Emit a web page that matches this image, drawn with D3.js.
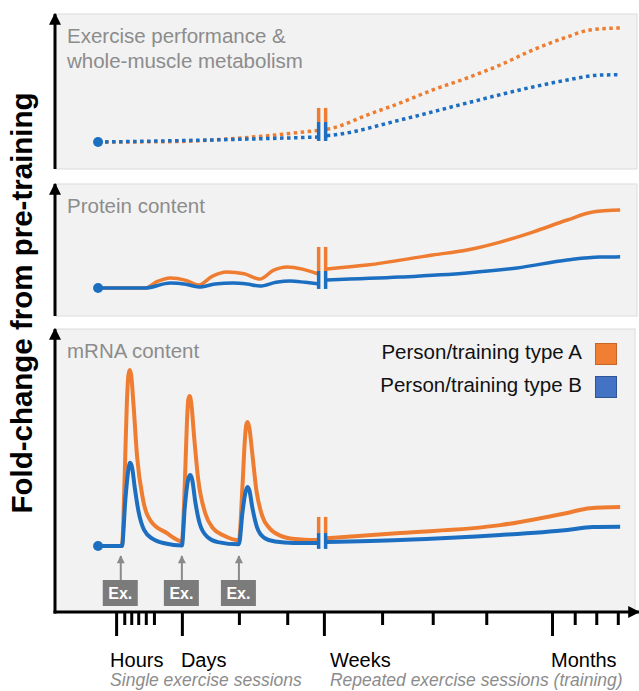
<!DOCTYPE html>
<html>
<head>
<meta charset="utf-8">
<script src="https://cdn.jsdelivr.net/npm/d3@7"></script>
<style>
  body { margin: 0; background: #fff; }
  svg { display: block; font-family: "Liberation Sans", Arial, Helvetica, sans-serif; }
</style>
</head>
<body>
<div id="chart"></div>
<script>
// ---- data (x in timeline units 0-100, y in relative units 0-100 per panel) ----
const tickMajor = [10.5, 21.8, 46.2, 85.4];
const tickMinor = [11.9, 13.1, 14.3, 15.6, 17.0, 31.6, 39.9, 56.2, 64.9, 74.1, 89.3, 93.0, 96.7];
const tickLabels = ["Hours", "Days", "Weeks", "Months"];
const periodLabels = ["Single exercise sessions", "Repeated exercise sessions (training)"];
const exerciseT = [11.3, 21.8, 31.6];
const breakT = [45.3, 46.5];
const seriesNames = ["Person/training type A", "Person/training type B"];

// Exercise performance & whole-muscle metabolism
const perfA = [[7.4,17.4],[15,17.5],[22.7,17.9],[30,19.5],[37,21.6],[42.1,23.6],[45.1,24.8],
  [46.7,25.6],[47.8,26.5],[53.6,34.8],[59.3,42.6],[64.9,51],[70.8,58.7],[76.5,67.1],[82.1,76.8],[88,85.2],[91.9,89.7],[97.1,91]];
const perfB = [[7.4,17.4],[20,18.2],[30,19],[38,19.8],[45.1,20.6],
  [46.7,21.5],[47.8,21.9],[59.3,31.6],[70.8,42.6],[82.1,52.9],[88,57.4],[93.6,60.6],[97.1,60.8]];
const perfBreak = [39.4, 30.3, 18.1];

// Protein content
const protA = [[7.4,21.2],[15.5,21.2],[17.5,26],[19.8,28.8],[22.5,27],[24.7,23.5],[27,30],[29.5,33.3],[32.5,32],[35.2,28],[37.5,34.5],[39.9,37.1],[42.5,35.5],[45.1,32],
  [46.7,35.6],[53.6,38.6],[64.9,46.2],[70.8,50],[76.5,56],[82.1,63.6],[88,72.7],[92.4,78.8],[97.1,80.3]];
const protB = [[7.4,21.2],[15.5,21.2],[19.8,25],[22.5,24],[24.7,22],[27.5,24.2],[30.6,25],[33,24.2],[35.2,22.7],[38,25.5],[40.4,26.5],[43,25.5],[45.1,24.5],
  [46.7,27.3],[59.3,29.5],[70.8,32.6],[79.4,36.4],[88,42.4],[93.6,44.7],[97.1,44.8]];
const protBreak = [52.3, 34.1, 20.5];

// mRNA content
const mrnaA = [[7.4,23.3],[11.5,23.3],[12.0,50],[12.35,74],[12.6,83.5],[12.85,85.5],[13.1,83.5],[13.5,73],[14.1,55],[15.1,40],[16.5,32],[19.2,27.9],[21.8,25],
  [22.3,45],[22.65,66],[22.9,75],[23.15,76.3],[23.4,74],[23.9,62],[24.6,47],[25.8,35],[27.2,29.5],[29,27],[31.6,25.3],
  [32.2,44],[32.6,60],[32.85,66],[33.1,67.1],[33.4,65],[33.9,56],[34.6,43],[35.6,34],[36.9,29.5],[38.7,27],[41.2,25.8],[45.1,25.4],
  [46.7,26.1],[59.3,27.9],[76.5,30.7],[88,35],[91.9,36.7],[97.1,37.1]];
const mrnaB = [[7.4,23.3],[11.5,23.3],[12.1,40],[12.55,49.5],[12.9,52.7],[13.25,51],[13.7,44],[14.4,35],[15.3,29],[16.8,25.8],[19,24.2],[21.8,23.5],
  [22.3,37],[22.8,46],[23.2,48.4],[23.55,47],[24.1,39],[24.9,31],[26.2,26.5],[28,24.7],[31.6,23.9],
  [32.2,35],[32.7,42],[33.05,44.2],[33.4,43],[33.9,37],[34.7,30],[35.9,26.3],[37.8,24.9],[41,24.4],[45.1,24.4],
  [46.7,24.7],[59.3,25.4],[76.5,27.2],[88,29],[92.4,30],[97.1,30.1]];
const mrnaBreak = [33.6, 27.9, 22.3];

// ---- layout ----
const width = 639, height = 691;
const left = 55, right = 637, axisY = 612;
const orange = "#ee7d31", blue = "#1c6ec1";
const labelShift = [-6, -1, 6, -1];

const panels = [
  { title: ["Exercise performance &", "whole-muscle metabolism"], top: 14, bottom: 169, a: perfA, b: perfB, brk: perfBreak, dotted: true, sw: 3.5 },
  { title: ["Protein content"], top: 184, bottom: 316, a: protA, b: protB, brk: protBreak, dotted: false, sw: 3.5 },
  { title: ["mRNA content"], top: 329, bottom: axisY, a: mrnaA, b: mrnaB, brk: mrnaBreak, dotted: false, sw: 4 }
];

const svg = d3.select("#chart").append("svg").attr("width", width).attr("height", height);

const defs = svg.append("defs");
defs.append("marker").attr("id", "arrowBlack")
  .attr("viewBox", "0 0 10 10").attr("refX", 9).attr("refY", 5)
  .attr("markerUnits", "userSpaceOnUse").attr("markerWidth", 12).attr("markerHeight", 12)
  .attr("orient", "auto")
  .append("path").attr("d", "M0,0L10,5L0,10z").attr("fill", "#000");
defs.append("marker").attr("id", "arrowGray")
  .attr("viewBox", "0 0 10 10").attr("refX", 9).attr("refY", 5)
  .attr("markerUnits", "userSpaceOnUse").attr("markerWidth", 9).attr("markerHeight", 8)
  .attr("orient", "auto")
  .append("path").attr("d", "M0,0L10,5L0,10z").attr("fill", "#8a8a8a");

const x = d3.scaleLinear().domain([0, 100]).range([left, right]);

panels.forEach((p, i) => {
  const y = d3.scaleLinear().domain([0, 100]).range([p.bottom, p.top]);
  const g = svg.append("g");

  g.append("rect")
    .attr("x", left).attr("y", p.top)
    .attr("width", right - left - (i === 2 ? 2 : 0)).attr("height", p.bottom - p.top)
    .attr("fill", "#f2f2f2").attr("stroke", "#dcdcdc").attr("stroke-width", 1);

  // titles
  g.selectAll("text.title").data(p.title).enter().append("text")
    .attr("class", "title")
    .attr("x", 67).attr("y", (d, k) => p.top + 29 + k * 25)
    .attr("font-size", 20.5).attr("fill", "#8c8c8c")
    .text(d => d);

  const line = d3.line().x(d => x(d[0])).y(d => y(d[1])).curve(d3.curveMonotoneX);

  [[p.a, orange], [p.b, blue]].forEach(([data, col]) => {
    const segs = [data.filter(d => d[0] < breakT[0]), data.filter(d => d[0] > breakT[1])];
    g.selectAll(null).data(segs).enter().append("path")
      .attr("d", line)
      .attr("fill", "none")
      .attr("stroke", col)
      .attr("stroke-width", p.sw)
      .attr("stroke-dasharray", p.dotted ? "3.5,3.5" : null)
      .attr("stroke-linejoin", "round");
  });

  // break marks
  breakT.forEach(t => {
    g.append("line").attr("x1", x(t)).attr("x2", x(t))
      .attr("y1", y(p.brk[0])).attr("y2", y(p.brk[1]))
      .attr("stroke", orange).attr("stroke-width", 3.5);
    g.append("line").attr("x1", x(t)).attr("x2", x(t))
      .attr("y1", y(p.brk[1])).attr("y2", y(p.brk[2]))
      .attr("stroke", blue).attr("stroke-width", 3.5);
  });

  // starting point
  g.append("circle").attr("cx", x(p.b[0][0])).attr("cy", y(p.b[0][1])).attr("r", 5).attr("fill", blue);

  // y arrow
  g.append("line").attr("x1", left).attr("x2", left)
    .attr("y1", p.bottom + (i === 2 ? 1.5 : 0)).attr("y2", p.top)
    .attr("stroke", "#000").attr("stroke-width", 3)
    .attr("marker-end", "url(#arrowBlack)");
});

// exercise markers
const ex = svg.append("g").selectAll("g").data(exerciseT).enter().append("g")
  .attr("transform", d => `translate(${x(d)},0)`);
ex.append("line").attr("x1", 0).attr("x2", 0).attr("y1", 580).attr("y2", 556)
  .attr("stroke", "#8a8a8a").attr("stroke-width", 2).attr("marker-end", "url(#arrowGray)");
ex.append("rect").attr("x", -18).attr("y", 580).attr("width", 35).attr("height", 26).attr("fill", "#7b7b7b");
ex.append("text").attr("x", -0.5).attr("y", 599).attr("text-anchor", "middle")
  .attr("font-size", 16).attr("font-weight", "bold").attr("fill", "#fff").text("Ex.");

// legend
const legend = svg.append("g").selectAll("g").data(seriesNames).enter().append("g")
  .attr("transform", (d, i) => `translate(0,${i * 33})`);
legend.append("text").attr("x", 582).attr("y", 359).attr("text-anchor", "end")
  .attr("font-size", 20.5).attr("fill", "#111").text(d => d);
legend.append("rect").attr("x", 595.5).attr("y", 343.5).attr("width", 21).attr("height", 21)
  .attr("fill", (d, i) => i === 0 ? "#f07f34" : "#4472c4")
  .attr("stroke", (d, i) => i === 0 ? "#c5652a" : "#2f5597").attr("stroke-width", 1);

// x axis with arrow
svg.append("line").attr("x1", left - 1.5).attr("x2", 639).attr("y1", axisY).attr("y2", axisY)
  .attr("stroke", "#000").attr("stroke-width", 3).attr("marker-end", "url(#arrowBlack)");

const majorAxis = d3.axisBottom(x).tickValues(tickMajor).tickSize(24).tickFormat("");
const minorAxis = d3.axisBottom(x).tickValues(tickMinor).tickSize(13).tickFormat("");
[majorAxis, minorAxis].forEach(ax => {
  const a = svg.append("g").attr("transform", `translate(0,${axisY})`).call(ax);
  a.select(".domain").remove();
  a.selectAll(".tick line").attr("stroke", "#000").attr("stroke-width", 3);
});

svg.append("g").selectAll("text").data(tickLabels).enter().append("text")
  .attr("x", (d, i) => x(tickMajor[i]) + labelShift[i]).attr("y", 667)
  .attr("font-size", 20).attr("fill", "#000").text(d => d);

svg.append("g").selectAll("text").data(periodLabels).enter().append("text")
  .attr("x", (d, i) => x(tickMajor[i * 2]) + labelShift[i * 2]).attr("y", 686)
  .attr("font-size", 17.5).attr("font-style", "italic").attr("fill", "#8c8c8c").text(d => d);

// y label
svg.append("text")
  .attr("transform", "translate(32,303) rotate(-90)")
  .attr("text-anchor", "middle")
  .attr("font-size", 29.5).attr("font-weight", "bold").attr("fill", "#000")
  .text("Fold-change from pre-training");
</script>
</body>
</html>
